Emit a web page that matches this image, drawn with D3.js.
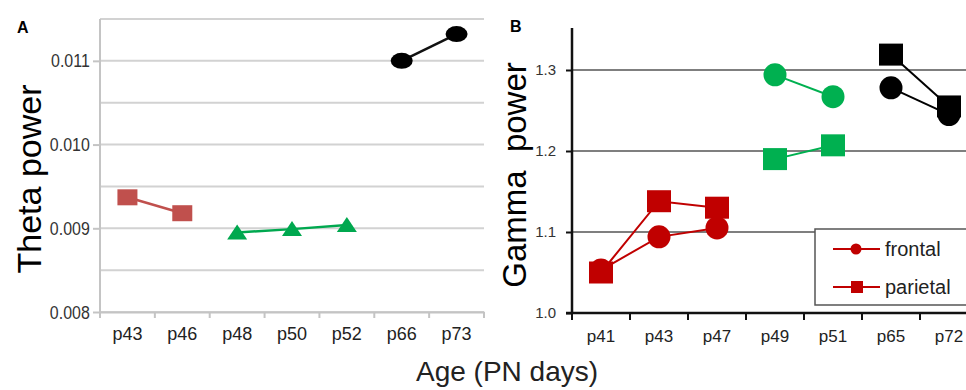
<!DOCTYPE html>
<html>
<head>
<meta charset="utf-8">
<script src="https://d3js.org/d3.v7.min.js"></script>
<style>
  body { margin: 0; background: #fff; }
  svg, svg text { font-family: "Liberation Sans", Arial, sans-serif; }
</style>
</head>
<body>
<svg id="chart" width="966" height="390"></svg>
<script>
// panel A - theta power
var ageA = ["p43", "p46", "p48", "p50", "p52", "p66", "p73"];
var thetaEarly = [0.00937, 0.00918];          // p43, p46
var thetaMid = [0.00895, 0.00899, 0.00904];   // p48, p50, p52
var thetaLate = [0.01100, 0.01132];           // p66, p73
var yTicksA = [0.008, 0.009, 0.010, 0.011];
var yGridA = [0.008, 0.0085, 0.009, 0.0095, 0.010, 0.0105, 0.011, 0.0115];

// panel B - gamma power
var ageB = ["p41", "p43", "p47", "p49", "p51", "p65", "p72"];
var frontalEarly = [1.053, 1.094, 1.105];     // p41, p43, p47
var parietalEarly = [1.050, 1.138, 1.130];
var frontalMid = [1.294, 1.267];              // p49, p51
var parietalMid = [1.190, 1.207];
var frontalLate = [1.278, 1.245];             // p65, p72
var parietalLate = [1.319, 1.255];
var yTicksB = [1.0, 1.1, 1.2, 1.3];
var legendNames = ["frontal", "parietal"];

var svg = d3.select("#chart");
var FONT = '"Liberation Sans", Arial, sans-serif';

function pairs(cats, vals) {
  return vals.map(function(v, i) { return { age: cats[i], v: v }; });
}

// ---------- panel A ----------
var xA = d3.scaleBand().domain(ageA).range([100, 484]);
var yA = d3.scaleLinear().domain([0.008, 0.0115]).range([312, 19]);
var gA = svg.append("g");

gA.selectAll("line.grid")
  .data(yGridA)
  .enter().append("line")
  .attr("x1", 100).attr("x2", 484)
  .attr("y1", function(d) { return yA(d); })
  .attr("y2", function(d) { return yA(d); })
  .style("stroke", "#d2d2d2").style("stroke-width", 2);

// y axis
gA.append("g")
  .attr("transform", "translate(100,0)")
  .call(d3.axisLeft(yA).tickValues(yTicksA).tickSize(7).tickPadding(4)
    .tickFormat(d3.format(".3f")))
  .call(function(g) {
    g.attr("font-family", FONT);
    g.select(".domain").attr("d", "M0,19V312").style("stroke", "#c4c4c4").style("stroke-width", 2);
    g.selectAll(".tick line").style("stroke", "#c4c4c4").style("stroke-width", 2);
    g.selectAll(".tick text")
      .style("font-size", "19px").style("fill", "#333")
      .attr("transform", "translate(-1,0) scale(0.84,1)");
  });

// x axis
gA.append("g")
  .attr("transform", "translate(0,312)")
  .call(d3.axisBottom(xA).tickSize(0).tickPadding(15))
  .call(function(g) {
    g.attr("font-family", FONT);
    g.select(".domain").style("stroke", "#c4c4c4").style("stroke-width", 2);
    g.selectAll(".tick text").style("font-size", "18px").style("fill", "#222");
  });
gA.selectAll("line.xtick")
  .data(ageA.concat(["end"]))
  .enter().append("line")
  .attr("x1", function(d, i) { return xA.range()[0] + i * xA.step(); })
  .attr("x2", function(d, i) { return xA.range()[0] + i * xA.step(); })
  .attr("y1", 312).attr("y2", 318)
  .style("stroke", "#c4c4c4").style("stroke-width", 2);

var lineA = d3.line()
  .x(function(d) { return xA(d.age) + xA.bandwidth() / 2; })
  .y(function(d) { return yA(d.v); });

var redA = pairs(ageA.slice(0, 2), thetaEarly);
var greenA = pairs(ageA.slice(2, 5), thetaMid);
var blackA = pairs(ageA.slice(5, 7), thetaLate);

gA.append("path").datum(redA).attr("d", lineA)
  .style("fill", "none").style("stroke", "#c0504d").style("stroke-width", 2.5);
gA.append("path").datum(greenA).attr("d", lineA)
  .style("fill", "none").style("stroke", "#00a84f").style("stroke-width", 2.5);
gA.append("path").datum(blackA).attr("d", lineA)
  .style("fill", "none").style("stroke", "#111").style("stroke-width", 2.5);

gA.selectAll("rect.sq").data(redA).enter().append("rect")
  .attr("x", function(d) { return xA(d.age) + xA.bandwidth() / 2 - 10; })
  .attr("y", function(d) { return yA(d.v) - 8; })
  .attr("width", 20).attr("height", 16)
  .style("fill", "#c0504d");

gA.selectAll("path.tri").data(greenA).enter().append("path")
  .attr("d", function(d) {
    var cx = xA(d.age) + xA.bandwidth() / 2, cy = yA(d.v);
    return "M" + (cx - 10) + "," + (cy + 7) + "L" + cx + "," + (cy - 8) + "L" + (cx + 10) + "," + (cy + 7) + "Z";
  })
  .style("fill", "#00a84f");

gA.selectAll("ellipse.dot").data(blackA).enter().append("ellipse")
  .attr("cx", function(d) { return xA(d.age) + xA.bandwidth() / 2; })
  .attr("cy", function(d) { return yA(d.v); })
  .attr("rx", 11).attr("ry", 8)
  .style("fill", "#000");

gA.append("text")
  .attr("transform", "translate(41,179) rotate(-90)")
  .attr("text-anchor", "middle")
  .style("font-size", "34px")
  .text("Theta power");

svg.append("text").attr("x", 17).attr("y", 33)
  .style("font-size", "16px").style("font-weight", "bold").text("A");

// ---------- panel B ----------
var xB = d3.scaleBand().domain(ageB).range([572, 978]);
var yB = d3.scaleLinear().domain([1.0, 1.35]).range([313, 29.5]);
var gB = svg.append("g");

gB.selectAll("line.grid")
  .data(yTicksB.slice(1))
  .enter().append("line")
  .attr("x1", 572).attr("x2", 966)
  .attr("y1", function(d) { return yB(d); })
  .attr("y2", function(d) { return yB(d); })
  .style("stroke", "#555").style("stroke-width", 1.6);

gB.append("g")
  .attr("transform", "translate(572,0)")
  .call(d3.axisLeft(yB).tickValues(yTicksB).tickSize(6).tickPadding(10)
    .tickFormat(d3.format(".1f")))
  .call(function(g) {
    g.attr("font-family", FONT);
    g.select(".domain").attr("d", "M0,28V313").style("stroke", "#111").style("stroke-width", 2.5);
    g.selectAll(".tick line").style("stroke", "#111").style("stroke-width", 2);
    g.selectAll(".tick text").style("font-size", "15px").style("fill", "#333");
  });

gB.append("g")
  .attr("transform", "translate(0,313)")
  .call(d3.axisBottom(xB).tickSize(0).tickPadding(17))
  .call(function(g) {
    g.attr("font-family", FONT);
    g.select(".domain").attr("d", "M566,0H966").style("stroke", "#111").style("stroke-width", 2.5);
    g.selectAll(".tick text").style("font-size", "17px").style("fill", "#222");
  });
gB.selectAll("line.xtick")
  .data(ageB)
  .enter().append("line")
  .attr("x1", function(d, i) { return xB.range()[0] + i * xB.step(); })
  .attr("x2", function(d, i) { return xB.range()[0] + i * xB.step(); })
  .attr("y1", 313).attr("y2", 320)
  .style("stroke", "#111").style("stroke-width", 2);

var lineB = d3.line()
  .x(function(d) { return xB(d.age) + xB.bandwidth() / 2; })
  .y(function(d) { return yB(d.v); });

var groupsB = [
  { color: "#c00000", frontal: pairs(ageB.slice(0, 3), frontalEarly), parietal: pairs(ageB.slice(0, 3), parietalEarly) },
  { color: "#00b050", frontal: pairs(ageB.slice(3, 5), frontalMid), parietal: pairs(ageB.slice(3, 5), parietalMid) },
  { color: "#000000", frontal: pairs(ageB.slice(5, 7), frontalLate), parietal: pairs(ageB.slice(5, 7), parietalLate) }
];

groupsB.forEach(function(gr) {
  gB.append("path").datum(gr.frontal).attr("d", lineB)
    .style("fill", "none").style("stroke", gr.color).style("stroke-width", 2);
  gB.append("path").datum(gr.parietal).attr("d", lineB)
    .style("fill", "none").style("stroke", gr.color).style("stroke-width", 2);
});
groupsB.forEach(function(gr) {
  gB.selectAll(null).data(gr.frontal).enter().append("circle")
    .attr("cx", function(d) { return xB(d.age) + xB.bandwidth() / 2; })
    .attr("cy", function(d) { return yB(d.v); })
    .attr("r", 11.5)
    .style("fill", gr.color);
  gB.selectAll(null).data(gr.parietal).enter().append("rect")
    .attr("x", function(d) { return xB(d.age) + xB.bandwidth() / 2 - 12; })
    .attr("y", function(d) { return yB(d.v) - 11; })
    .attr("width", 24).attr("height", 22)
    .style("fill", gr.color);
});

// legend
var leg = gB.append("g").attr("transform", "translate(815,229)");
leg.append("rect").attr("x", 0).attr("y", 0).attr("width", 160).attr("height", 76)
  .style("fill", "#fff").style("stroke", "#555").style("stroke-width", 1.5);
legendNames.forEach(function(name, i) {
  var ly = 20 + i * 38;
  leg.append("line").attr("x1", 18).attr("x2", 65).attr("y1", ly).attr("y2", ly)
    .style("stroke", "#c00000").style("stroke-width", 2);
  if (i === 0) {
    leg.append("circle").attr("cx", 41).attr("cy", ly).attr("r", 5.5).style("fill", "#c00000");
  } else {
    leg.append("rect").attr("x", 36).attr("y", ly - 6).attr("width", 12).attr("height", 12).style("fill", "#c00000");
  }
  leg.append("text").attr("x", 70).attr("y", ly + 7)
    .style("font-size", "20px").style("fill", "#222").text(name);
});

gB.append("text")
  .attr("transform", "translate(526,175) rotate(-90)")
  .attr("text-anchor", "middle")
  .style("font-size", "33px")
  .style("white-space", "pre")
  .text("Gamma  power");

svg.append("text").attr("x", 510).attr("y", 32)
  .style("font-size", "16px").style("font-weight", "bold").text("B");

svg.append("text").attr("x", 507).attr("y", 381)
  .attr("text-anchor", "middle")
  .style("font-size", "28px").style("fill", "#222")
  .text("Age (PN days)");
</script>
</body>
</html>
